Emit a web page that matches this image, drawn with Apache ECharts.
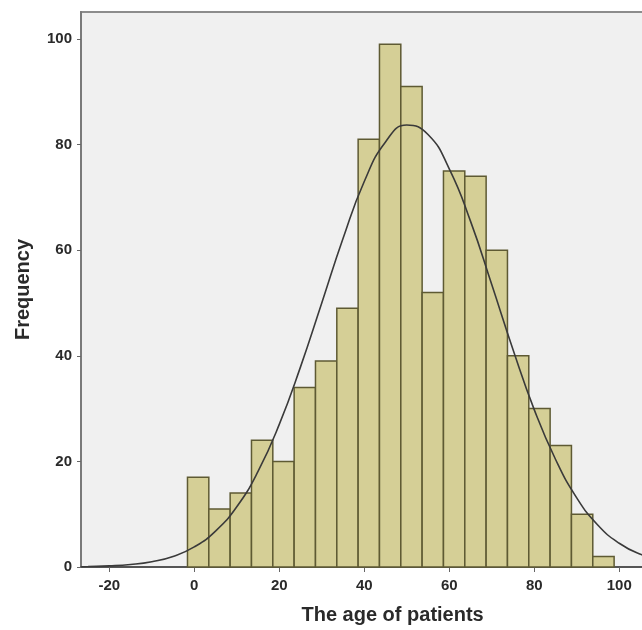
<!DOCTYPE html>
<html>
<head>
<meta charset="utf-8">
<script src="https://cdn.jsdelivr.net/npm/echarts@6/dist/echarts.min.js"></script>
<style>
html,body{margin:0;padding:0;background:#fff;}
#chart{width:642px;height:630px;}
</style>
</head>
<body>
<div id="chart"></div>
<script>
// Histogram bins (age of patients)
const binLow  = [-1.6, 3.42, 8.44, 13.46, 18.48, 23.5, 28.52, 33.54, 38.56, 43.58, 48.6, 53.62, 58.64, 63.66, 68.68, 73.7, 78.72, 83.74, 88.76, 93.78];
const binHigh = [3.42, 8.44, 13.46, 18.48, 23.5, 28.52, 33.54, 38.56, 43.58, 48.6, 53.62, 58.64, 63.66, 68.68, 73.7, 78.72, 83.74, 88.76, 93.78, 98.8];
const counts  = [17, 11, 14, 24, 20, 34, 39, 49, 81, 99, 91, 52, 75, 74, 60, 40, 30, 23, 10, 2];

// Normal curve points
const curveX = [-26.6, -25, -20, -15, -10, -5, 0, 5, 10, 15, 20, 25, 30, 35, 40, 45, 50, 55, 60, 65, 70, 75, 80, 85, 90, 95, 100, 105, 110, 115, 120];
const curveY = [0.06, 0.09, 0.21, 0.47, 1.0, 2.0, 3.8, 6.8, 11.4, 18.1, 27.0, 37.9, 50.0, 62.2, 73.0, 80.5, 83.7, 81.9, 75.4, 65.5, 53.5, 41.2, 29.8, 20.4, 13.1, 7.9, 4.5, 2.4, 1.2, 0.6, 0.26];

// Tick labels
const xTicks = [-20, 0, 20, 40, 60, 80, 100];
const yTicks = [0, 20, 40, 60, 80, 100];

const chart = echarts.init(document.getElementById('chart'), null, {renderer: 'canvas'});

const barData = binLow.map((lo, i) => [lo, binHigh[i], counts[i]]);
const lineData = curveX.map((x, i) => [x, curveY[i]]);

const labelFont = {fontFamily: 'Liberation Sans, Arial, sans-serif', fontWeight: 'bold', fontSize: 15, color: '#2a2a2a'};
const titleFont = {fontFamily: 'Liberation Sans, Arial, sans-serif', fontWeight: 'bold', fontSize: 20, color: '#2a2a2a'};

chart.setOption({
  animation: false,
  grid: {
    left: 81, top: 12, width: 623.2, height: 555,
    outerBoundsMode: 'none', containLabel: false,
    show: true, backgroundColor: '#f0f0f0', borderColor: '#8c8c8c', borderWidth: 2
  },
  xAxis: {
    type: 'value', min: -26.66, max: 120,
    name: 'The age of patients', nameLocation: 'middle', nameGap: 38,
    nameTextStyle: titleFont,
    splitLine: {show: false},
    axisLine: {show: true, onZero: false, lineStyle: {color: '#555', width: 2}},
    axisTick: {show: true, length: 5, customValues: xTicks, lineStyle: {color: '#666', width: 1}},
    axisLabel: Object.assign({customValues: xTicks, margin: 11}, labelFont)
  },
  yAxis: {
    type: 'value', min: 0, max: 105.1, interval: 20,
    name: 'Frequency', nameLocation: 'middle', nameGap: 48,
    nameTextStyle: titleFont,
    splitLine: {show: false},
    axisLine: {show: true, onZero: false, lineStyle: {color: '#7a7a7a', width: 2}},
    axisTick: {show: true, length: 4, customValues: yTicks, lineStyle: {color: '#666', width: 1}},
    axisLabel: Object.assign({customValues: yTicks, margin: 9}, labelFont)
  },
  series: [
    {
      type: 'custom',
      data: barData,
      encode: {x: [0, 1], y: 2},
      renderItem: function (params, api) {
        const p0 = api.coord([api.value(0), api.value(2)]);
        const p1 = api.coord([api.value(1), 0]);
        return {
          type: 'rect',
          shape: {x: p0[0], y: p0[1], width: p1[0] - p0[0], height: p1[1] - p0[1]},
          style: {fill: '#d5cf96', stroke: '#5e5a33', lineWidth: 1.5}
        };
      },
      z: 2
    },
    {
      type: 'line',
      data: lineData,
      smooth: true,
      showSymbol: false,
      clip: true,
      lineStyle: {color: '#3a3a3a', width: 1.6},
      z: 3
    }
  ]
});
</script>
</body>
</html>
